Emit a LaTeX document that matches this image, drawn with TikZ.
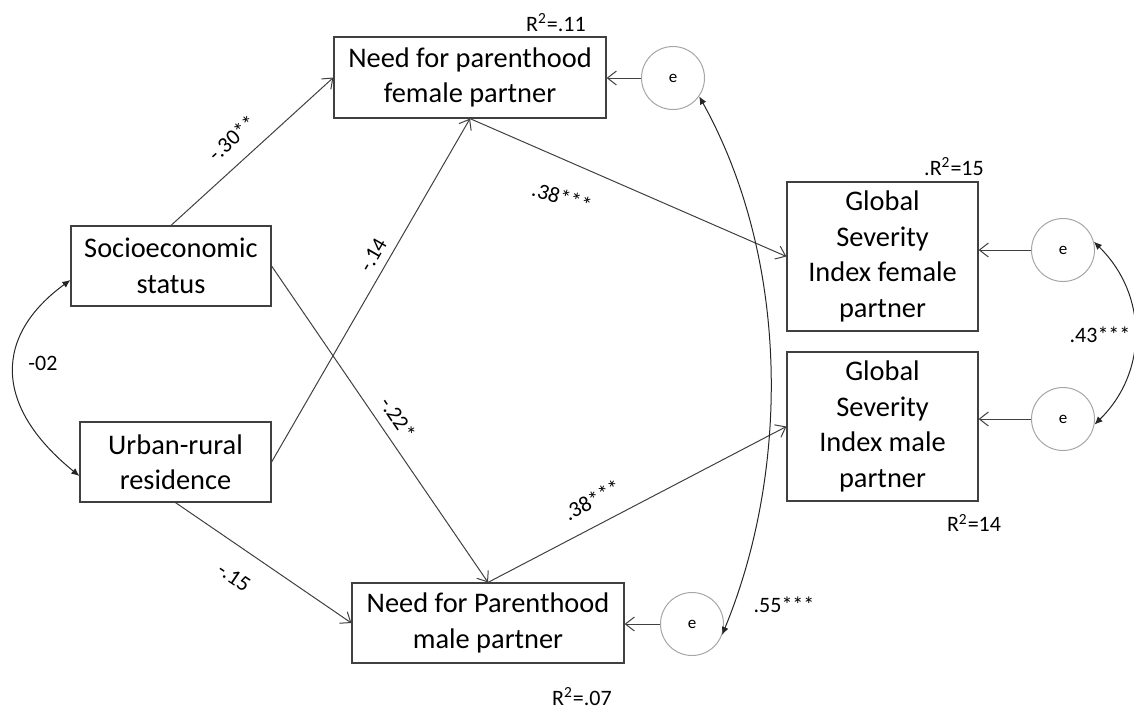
\documentclass[tikz,border=0pt]{standalone}
\usepackage{fontspec}
\setmainfont{Carlito}
\usetikzlibrary{arrows.meta}
\tikzstyle{var} = [rectangle, draw=black!75, line width=0.6pt, align=center, inner sep=0pt, font=\fontsize{14.2}{17.75}\selectfont]
\tikzstyle{err} = [circle, draw=black!35, line width=0.5pt, minimum size=31.5pt, inner sep=0pt, font=\fontsize{8.5}{10}\selectfont]
\tikzstyle{effect} = [draw=black!75, line width=0.5pt, -{Straight Barb[length=4.5pt,width=7pt]}]
\tikzstyle{cov} = [draw=black!85, line width=0.5pt, {Latex[length=4pt,width=3.5pt]}-{Latex[length=4pt,width=3.5pt]}]
\tikzstyle{coef} = [inner sep=1pt, font=\fontsize{11}{13}\selectfont]

\begin{document}
\begin{tikzpicture}[x=0.5pt, y=-0.5pt]
\useasboundingbox (0,0) rectangle (1134,709);

% observed variables
\node (npf) [var, minimum width=136pt, minimum height=40.5pt] at (470,77.5) {Need for parenthood\\female partner};
\node (ses) [var, minimum width=100pt, minimum height=40pt] at (171,266) {Socioeconomic\\status};
\node (urb) [var, minimum width=95.5pt, minimum height=40pt] at (175.5,462) {Urban-rural\\residence};
\node (npm) [var, minimum width=136pt, minimum height=40pt] at (488,623) {Need for Parenthood\\male partner};
\node (gsf) [var, minimum width=95.5pt, minimum height=74.5pt] at (882.5,256.5) {Global\\Severity\\Index female\\partner};
\node (gsm) [var, minimum width=95.5pt, minimum height=74.5pt] at (882.5,426.5) {Global\\Severity\\Index male\\partner};

% error terms
\node (e1) [err] at (673,78) {e};
\node (e2) [err] at (692,624) {e};
\node (e3) [err] at (1063,250) {e};
\node (e4) [err] at (1063,419) {e};

% R squared
\node (r1) [coef] at (556,23) {R\textsuperscript{2}=.11};
\node (r2) [coef] at (954,167) {.R\textsuperscript{2}=15};
\node (r3) [coef] at (974,523) {R\textsuperscript{2}=14};
\node (r4) [coef] at (582,697) {R\textsuperscript{2}=.07};

% paths
\draw[effect] (ses.north) -- (npf.west);
\draw[effect] (urb.east) -- (npf.south);
\draw[effect] (ses.east) -- (npm.north);
\draw[effect] (urb.south) -- (npm.west);
\draw[effect] (npf.south) -- (gsf.west);
\draw[effect] (npm.north) -- (gsm.west);

\draw[effect] (e1.west) -- (e1.west -| npf.east);
\draw[effect] (e2.west) -- (e2.west -| npm.east);
\draw[effect] (e3.west) -- (e3.west -| gsf.east);
\draw[effect] (e4.west) -- (e4.west -| gsm.east);

% covariances
\draw[cov] ([yshift=-7pt]ses.west) .. controls (-5,335) and (-8,405) .. ([yshift=-7pt]urb.west);
\draw[cov] (e1.-35) .. controls (790,260) and (790,470) .. (e2.-20);
\draw[cov] (e3.15) .. controls (1148,295) and (1148,372) .. (e4.-10);

% coefficients
\node (b1) [coef, rotate=42] at (232,138) {-.30**};
\node (b2) [coef, rotate=60] at (373,255) {-.14};
\node (b3) [coef, rotate=-56] at (398,418) {-.22*};
\node (b4) [coef, rotate=-34] at (234,577) {-.15};
\node (b5) [coef, rotate=-17] at (562,197) {.38***};
\node (b6) [coef, rotate=28] at (592,500) {.38***};
\node (c1) [coef] at (43,363) {-02};
\node (c2) [coef] at (784,605) {.55***};
\node (c3) [coef] at (1100,335) {.43***};
\end{tikzpicture}
\end{document}
